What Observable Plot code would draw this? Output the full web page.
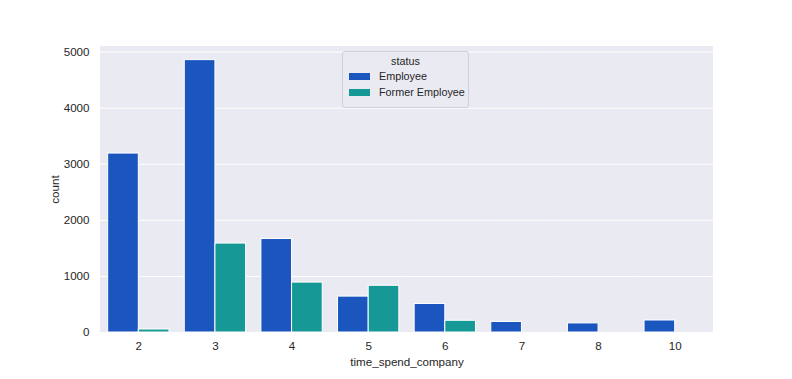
<!DOCTYPE html>
<html>
<head>
<meta charset="utf-8">
<script src="https://cdn.jsdelivr.net/npm/d3@7"></script>
<script src="https://cdn.jsdelivr.net/npm/@observablehq/plot@0.6"></script>
<style>
  html, body { margin: 0; padding: 0; background: #fff; }
  #wrap { position: relative; width: 792px; height: 379px; font-family: "Liberation Sans", Arial, sans-serif; }
  #legend { position: absolute; left: 342px; top: 51px; width: 127px; height: 57px;
    background: rgba(234,234,242,0.8); border: 1px solid #cfcfd6; border-radius: 3px;
    font-size: 10.8px; color: #262626; box-sizing: border-box; }
  #legend .title { position: absolute; left: 0; right: 0; top: 3px; text-align: center; }
  #legend .item { position: absolute; left: 6px; height: 12px; line-height: 12px; white-space: nowrap; }
  #legend .sw { display: inline-block; width: 21px; height: 7px; vertical-align: middle; margin-right: 9px; margin-top: -2px; }
</style>
</head>
<body>
<div id="wrap"></div>
<script>
const categories = ["2", "3", "4", "5", "6", "7", "8", "10"];
const statuses = ["Employee", "Former Employee"];
const employee = [3191, 4857, 1667, 640, 509, 188, 162, 214];
const former = [53, 1586, 890, 833, 209, 0, 0, 0];
const colors = ["#1a56be", "#169896"];
const yTicks = [0, 1000, 2000, 3000, 4000, 5000];

const rows = [];
categories.forEach((c, i) => {
  rows.push({cat: c, status: statuses[0], count: employee[i]});
  rows.push({cat: c, status: statuses[1], count: former[i]});
});

const M = {left: 100, right: 79, top: 46, bottom: 47};

const chart = Plot.plot({
  width: 792,
  height: 379,
  marginLeft: M.left,
  marginRight: M.right,
  marginTop: M.top,
  marginBottom: M.bottom,
  style: {fontFamily: '"Liberation Sans", Arial, sans-serif', fontSize: "11.6px", color: "#262626", background: "transparent"},
  fx: {domain: categories, padding: 0, round: false, tickSize: 0, tickPadding: 9, label: "time_spend_company", labelAnchor: "center", labelOffset: 33},
  x: {domain: statuses, paddingInner: 0, paddingOuter: 0.25, round: false, axis: null},
  y: {domain: [0, 5100], ticks: yTicks, tickFormat: d3.format("d"), tickSize: 0, tickPadding: 11, label: "count", labelArrow: "none", labelAnchor: "center", labelOffset: 50},
  color: {domain: statuses, range: colors},
  marks: [
    Plot.ruleY(yTicks, {stroke: "#ffffff", strokeWidth: 1}),
    Plot.barY(rows.filter(d => d.count > 0), {fx: "cat", x: "status", y: "count", fill: "status", stroke: "#ffffff", strokeWidth: 1})
  ]
});

// single background panel behind all facets
d3.select(chart).insert("rect", ":first-child")
  .attr("x", M.left).attr("y", M.top)
  .attr("width", 792 - M.left - M.right)
  .attr("height", 379 - M.top - M.bottom)
  .attr("fill", "#eaeaf2");

// remove any arrow if labelArrow unsupported
d3.select(chart).selectAll("text").each(function() {
  const t = d3.select(this);
  if (t.text().includes("count") && t.text().includes("↑")) t.text("count");
});

const wrap = document.getElementById("wrap");
wrap.appendChild(chart);

const legend = document.createElement("div");
legend.id = "legend";
let html = '<div class="title">status</div>';
statuses.forEach((s, i) => {
  html += `<div class="item" style="top:${18 + i * 16}px"><span class="sw" style="background:${colors[i]}"></span>${s}</div>`;
});
legend.innerHTML = html;
wrap.appendChild(legend);
</script>
</body>
</html>
